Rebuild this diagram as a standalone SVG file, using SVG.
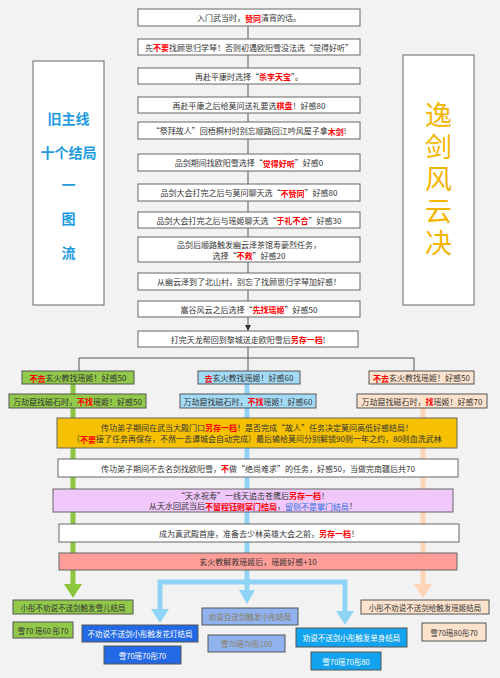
<svg xmlns="http://www.w3.org/2000/svg" width="500" height="678" viewBox="0 0 500 678">
<defs>
<style>
text{font-family:"Noto Sans CJK SC","Noto Sans",sans-serif;font-size:8px;fill:#333;text-anchor:middle;dominant-baseline:central}
.r{fill:#ff0000;font-weight:bold}
.b{fill:#2f6fe0}
.box{fill:#fff;stroke:#666;stroke-width:1}
.con{stroke:#555;stroke-width:1;fill:none}
.g{fill:#92c94a;stroke:#555;stroke-width:1}
.lb{fill:#a3daf6;stroke:#555;stroke-width:1}
.pe{fill:#fde3cd;stroke:#555;stroke-width:1}
.sm{font-size:7.5px}
.w{fill:#fff}
.side{font-size:14px;font-weight:bold;fill:#1e9be0}
.title{font-size:27px;fill:#f5b400;writing-mode:vertical-rl;letter-spacing:5px;dominant-baseline:auto}
</style>
<marker id="ah" markerWidth="6" markerHeight="6" refX="5" refY="3" orient="auto" markerUnits="userSpaceOnUse"><path d="M0,0 L6,3 L0,6 z" fill="#333"/></marker>
</defs>
<rect width="500" height="678" fill="#f2f2f2"/>

<g id="connectors">
<path class="con" d="M248,26 V39 M248,55 V68 M248,84 V97 M248,113 V122 M248,139 V154 M248,171 V184 M248,201 V212 M248,228 V237 M248,262 V273 M248,290 V301"/>
<path class="con" d="M248,317 V330" marker-end="url(#ah)"/>
<path class="con" d="M248,347 V371 M79,371 V358 H414 V371"/>
<path d="M73,384 V586" stroke="#8cc63e" stroke-width="5" fill="none"/>
<path d="M64,584 H82 L73,598 z" fill="#8cc63e"/>
<path d="M423,408 V586" stroke="#fdd5b6" stroke-width="5" fill="none"/>
<path d="M414,584 H432 L423,598 z" fill="#fdd5b6"/>
<path d="M247,384 V592 M160,611 V582 H345 V611" stroke="#8fd3f6" stroke-width="5" fill="none"/>
<path d="M239,590 H255 L247,604 z M151,609 H169 L160,623 z M336,611 H354 L345,625 z" fill="#8fd3f6"/>
</g>

<g id="side-left"><rect class="box" x="33" y="61" width="71" height="244"/>
<text class="side" x="68.5" y="118">旧主线</text>
<text class="side" x="68.5" y="152">十个结局</text>
<text class="side" x="68.5" y="184">一</text>
<text class="side" x="68.5" y="218">图</text>
<text class="side" x="68.5" y="252">流</text>
</g>
<g id="side-right"><rect class="box" x="403" y="55" width="71" height="250"/>
<text class="title" x="438.5" y="181">逸剑风云决</text>
</g>

<g id="n1"><rect class="box" x="138" y="9" width="222" height="17"/><text x="249" y="17.5">入门武当时，<tspan class="r">赞同</tspan>清宵的话。</text></g>
<g id="n2"><rect class="box" x="138" y="39" width="222" height="16"/><text x="249" y="47">先<tspan class="r">不要</tspan>找顾思归学琴！否则初遇欧阳雪没法选“觉得好听”</text></g>
<g id="n3"><rect class="box" x="138" y="68" width="222" height="16"/><text x="249" y="76">再赴平康时选择“<tspan class="r">杀李天宝</tspan>”。</text></g>
<g id="n4"><rect class="box" x="138" y="97" width="222" height="16"/><text x="249" y="105">再赴平康之后给莫问送礼要选<tspan class="r">棋盘</tspan>！好感80</text></g>
<g id="n5"><rect class="box" x="138" y="122" width="222" height="17"/><text x="249" y="130.5">“祭拜故人”回梧桐村时别忘顺路回江吟风屋子拿<tspan class="r">木剑</tspan>!</text></g>
<g id="n6"><rect class="box" x="138" y="154" width="222" height="17"/><text x="249" y="162.5">品剑期间找欧阳雪选择“<tspan class="r">觉得好听</tspan>”好感0</text></g>
<g id="n7"><rect class="box" x="138" y="184" width="222" height="17"/><text x="249" y="192.5">品剑大会打完之后与莫问聊天选“<tspan class="r">不赞同</tspan>”好感80</text></g>
<g id="n8"><rect class="box" x="138" y="212" width="222" height="16"/><text x="249" y="220">品剑大会打完之后与瑶姬聊天选“<tspan class="r">于礼不合</tspan>”好感30</text></g>
<g id="n9"><rect class="box" x="138" y="237" width="222" height="25"/><text x="249" y="244">品剑后顺路触发幽云泽茶馆寿豪烈任务，</text><text x="249" y="255">选择“<tspan class="r">不救</tspan>”好感20</text></g>
<g id="n10"><rect class="box" x="138" y="273" width="222" height="17"/><text x="249" y="281.5">从幽云泽到了北山村，别忘了找顾思归学琴加好感！</text></g>
<g id="n11"><rect class="box" x="138" y="301" width="222" height="16"/><text x="249" y="309">嵩谷风云之后选择“<tspan class="r">先找瑶姬</tspan>”好感50</text></g>
<g id="n12"><rect class="box" x="138" y="331" width="220" height="16"/><text x="248" y="339">打完天龙帮回到黎城送走欧阳雪后<tspan class="r">另存一档</tspan>!</text></g>

<g id="g1"><rect class="g" x="22" y="371" width="112" height="13"/><text x="78" y="377.5"><tspan class="r">不去</tspan>玄火教找瑶姬！好感50</text></g>
<g id="g2"><rect class="g" x="9" y="394" width="137" height="14"/><text x="77.5" y="401">万劫窟找磁石时，<tspan class="r">不找</tspan>瑶姬！好感50</text></g>
<g id="b1"><rect class="lb" x="198" y="371" width="102" height="13"/><text x="249" y="377.5"><tspan class="r">去</tspan>玄火教找瑶姬！好感60</text></g>
<g id="b2"><rect class="lb" x="180" y="394" width="136" height="14"/><text x="248" y="401">万劫窟找磁石时，<tspan class="r">不找</tspan>瑶姬！好感60</text></g>
<g id="p1"><rect class="pe" x="369" y="371" width="105" height="13"/><text x="421.5" y="377.5"><tspan class="r">不去</tspan>玄火教找瑶姬！好感50</text></g>
<g id="p2"><rect class="pe" x="357" y="394" width="130" height="14"/><text x="422" y="401">万劫窟找磁石时，<tspan class="r">找</tspan>瑶姬！好感70</text></g>

<g id="gold"><rect x="57" y="418" width="400" height="30" fill="#f5c100" stroke="#666"/><text x="257" y="427">传功弟子期间在武当大殿门口<tspan class="r">另存一档</tspan>！是否完成“故人”任务决定莫问高低好感结局！</text><text x="257" y="438.5">（<tspan class="r">不要</tspan>接了任务再保存，不然一去谭城会自动完成）最后输给莫问分别解锁90则一年之约，80则血洗武林</text></g>
<g id="w1"><rect class="box" x="58" y="459" width="400" height="18"/><text x="258" y="468">传功弟子期间不去名剑找欧阳雪，<tspan class="r">不</tspan>做“绝尚难求”的任务，好感50，当做完南疆后共70</text></g>
<g id="purple"><rect x="53" y="489" width="400" height="23" fill="#f0c8fb" stroke="#666"/><text x="253" y="495">“天水祝寿”一线天追击苍鹰后<tspan class="r">另存一档</tspan>！</text><text x="253" y="505.5">从天水回武当后<tspan class="r">不留程钰则掌门结局</tspan>，<tspan class="b">留则不是掌门结局</tspan>！</text></g>
<g id="w2"><rect class="box" x="59" y="524" width="400" height="18"/><text x="259" y="533">成为真武殿首座，准备去少林英雄大会之前，<tspan class="r">另存一档</tspan>！</text></g>
<g id="red"><rect x="59" y="553" width="398" height="17" fill="#ff9d98" stroke="#666"/><text x="258" y="561.5">玄火教解救瑶姬后，瑶姬好感+10</text></g>

<g id="e1"><rect class="g" x="13" y="600" width="120" height="14"/><text class="sm" x="73" y="607">小彤不劝说不送剑触发雪儿结局</text></g>
<g id="e1s"><rect class="g" x="13" y="622" width="60" height="16"/><text class="sm" x="43" y="630">雪70 瑶60 彤70</text></g>
<g id="e2"><rect x="82" y="625" width="116" height="17" fill="#2369e6" stroke="#555"/><text class="sm w" x="140" y="633.5">不劝说不送剑小彤触发花灯结局</text></g>
<g id="e2s"><rect x="104" y="646" width="77" height="18" fill="#2369e6" stroke="#555"/><text class="sm w" x="142.5" y="655">雪70瑶70彤70</text></g>
<g id="e3"><rect x="202" y="608" width="96" height="17" fill="#90b2ee" stroke="#555"/><text class="sm" x="250" y="616.5" style="fill:#8a7d55">劝说且送剑触发小彤结局</text></g>
<g id="e3s"><rect x="208" y="635" width="77" height="17" fill="#90b2ee" stroke="#555"/><text class="sm" x="246.5" y="643.5" style="fill:#8a7d55">雪70瑶70彤100</text></g>
<g id="e4"><rect x="296" y="628" width="111" height="19" fill="#12a2ee" stroke="#555"/><text class="sm w" x="351.5" y="637.5">劝说不送剑小彤触发单身结局</text></g>
<g id="e4s"><rect x="311" y="652" width="70" height="18" fill="#12a2ee" stroke="#555"/><text class="sm w" x="346" y="661">雪70瑶70彤80</text></g>
<g id="e5"><rect class="pe" x="361" y="600" width="128" height="14"/><text class="sm" x="425" y="607">小彤不劝说不送剑给触发瑶姬结局</text></g>
<g id="e5s"><rect class="pe" x="422" y="623" width="64" height="18"/><text class="sm" x="454" y="632">雪70瑶80彤70</text></g>
</svg>
